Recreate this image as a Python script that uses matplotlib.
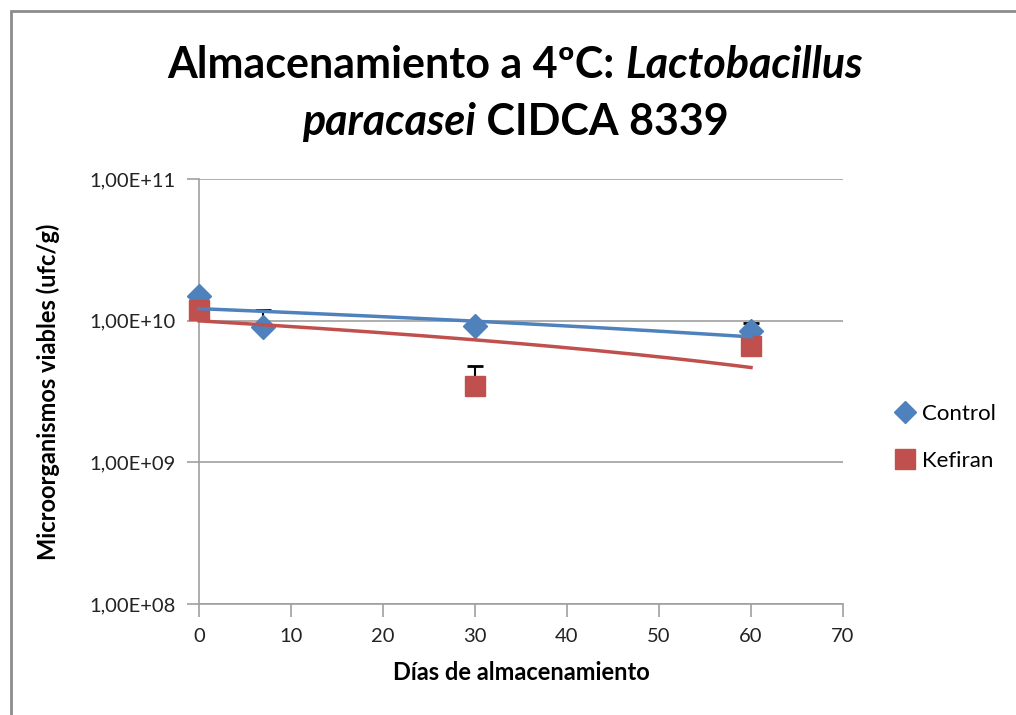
import numpy as np
import matplotlib
matplotlib.use("Agg")
import matplotlib.pyplot as plt
from matplotlib.offsetbox import TextArea, HPacker, AnnotationBbox
from matplotlib.patches import Rectangle

# ---- data ----
days_control = [0, 7, 30, 60]
control = [1.49e10, 9.0e9, 9.1e9, 8.4e9]
control_err = [0.0, 2.9e9, 0.0, 1.2e9]

days_kefiran = [0, 30, 60]
kefiran = [1.19e10, 3.46e9, 6.6e9]
kefiran_err = [0.0, 1.35e9, 0.0]

series_names = ["Control", "Kefiran"]
ytick_vals = [1e8, 1e9, 1e10, 1e11]
ytick_labels = ["1,00E+08", "1,00E+09", "1,00E+10", "1,00E+11"]
xtick_vals = [0, 10, 20, 30, 40, 50, 60, 70]

BLUE = "#4F81BD"
RED = "#C0504D"
FONT = "Lato"

plt.rcParams["font.family"] = [FONT, "DejaVu Sans"]

fig = plt.figure(figsize=(10.16, 7.15), dpi=100)
ax = fig.add_axes([199/1016, 1-604/715, (843-199)/1016, (604-179)/715])

# error bars (plus only)
ax.errorbar(days_control, control, yerr=[np.zeros(len(control_err)), control_err],
            fmt="none", ecolor="black", elinewidth=1.5, capsize=6, capthick=2, zorder=3,
            clip_on=False)
ax.errorbar(days_kefiran, kefiran, yerr=[np.zeros(len(kefiran_err)), kefiran_err],
            fmt="none", ecolor="black", elinewidth=1.5, capsize=6, capthick=2, zorder=3,
            clip_on=False)

ax.plot(days_control, control, linestyle="none", marker="D", markersize=12,
        color=BLUE, label=series_names[0], zorder=4, clip_on=False)
ax.plot(days_kefiran, kefiran, linestyle="none", marker="s", markersize=15,
        color=RED, label=series_names[1], zorder=5, clip_on=False)

# linear trendlines (Excel style)
xs = np.linspace(0, 60, 200)
pc = np.polyfit(days_control, control, 1)
pk = np.polyfit(days_kefiran, kefiran, 1)
ax.plot(xs, np.polyval(pc, xs), color=BLUE, linewidth=2.5, zorder=6, clip_on=False)
ax.plot(xs, np.polyval(pk, xs), color=RED, linewidth=2.5, zorder=6, clip_on=False)

ax.set_yscale("log")
ax.set_ylim(1e8, 1e11)
ax.set_xlim(0, 70)
ax.set_yticks(ytick_vals)
ax.set_yticklabels(ytick_labels)
ax.yaxis.set_minor_locator(matplotlib.ticker.NullLocator())
ax.set_xticks(xtick_vals)
ax.set_xticklabels([str(v) for v in xtick_vals])

ax.grid(axis="y", color="#A0A0A0", linewidth=1.2)
ax.set_axisbelow(True)
for s in ["top", "right"]:
    ax.spines[s].set_visible(False)
for s in ["left", "bottom"]:
    ax.spines[s].set_color("#A0A0A0")
    ax.spines[s].set_linewidth(1.2)
ax.tick_params(axis="both", direction="out", length=9, width=1.2, color="#A0A0A0",
               labelsize=14.5, labelcolor="#222222", pad=8)

ax.set_xlabel("Días de almacenamiento", fontsize=17, fontweight="bold", labelpad=12)
ax.set_ylabel("Microorganismos viables (ufc/g)", fontsize=17, fontweight="bold", labelpad=21)

leg = fig.legend(loc="center left", bbox_to_anchor=(0.86, 0.388), frameon=False,
                 fontsize=16, handletextpad=0.25, labelspacing=1.2, markerscale=0.95,
                 handlelength=1.0)

# title with mixed italic
tsize = 31
def title_line(parts, y):
    areas = [TextArea(t, textprops=dict(fontsize=tsize, fontweight="bold",
                                        fontstyle=st, family=FONT, color="black"))
             for t, st in parts]
    box = HPacker(children=areas, pad=0, sep=0, align="baseline")
    ab = AnnotationBbox(box, (0.507, y), xycoords="figure fraction", frameon=False,
                        box_alignment=(0.5, 0.5))
    fig.add_artist(ab)

title_line([("Almacenamiento a 4ºC: ", "normal"), ("Lactobacillus", "italic")], 1-65/715)
title_line([("paracasei", "italic"), (" CIDCA 8339", "normal")], 1-122/715)

# outer frame
fig.add_artist(Rectangle((11/1016, -0.01), 1.02, 1-11/715+0.01, transform=fig.transFigure,
                         fill=False, edgecolor="#8C8C8C", linewidth=2))

fig.savefig("out.png", dpi=100)
